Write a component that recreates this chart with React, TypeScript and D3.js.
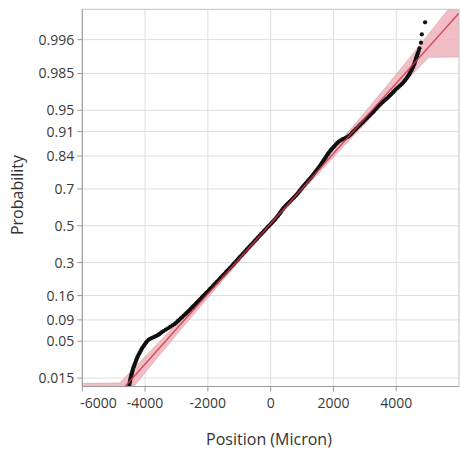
import React from 'react';
import * as d3 from 'd3';

// ---- data ----
const probTicks = [0.015, 0.05, 0.09, 0.16, 0.3, 0.5, 0.7, 0.84, 0.91, 0.95, 0.985, 0.996];
const xTicks = [-6000, -4000, -2000, 0, 2000, 4000];

// y of each point as a normal quantile (the probability axis is linear in it), x in micron
const normalQuantiles = [
  -2.29, -2.265, -2.24, -2.215, -2.19, -2.165, -2.14, -2.115, -2.09, -2.065, -2.04, -2.015, -1.99, -1.965,
  -1.94, -1.915, -1.89, -1.865, -1.84, -1.815, -1.79, -1.765, -1.74, -1.715, -1.69, -1.665, -1.645, -1.625,
  -1.61, -1.6, -1.59, -1.58, -1.57, -1.56, -1.548, -1.535, -1.52, -1.5, -1.48, -1.46, -1.44, -1.42, -1.4,
  -1.38, -1.36, -1.34, -1.32, -1.3, -1.28, -1.26, -1.24, -1.22, -1.2, -1.18, -1.16, -1.14, -1.12, -1.1,
  -1.08, -1.06, -1.04, -1.02, -1.0, -0.98, -0.96, -0.94, -0.92, -0.9, -0.88, -0.86, -0.84, -0.82, -0.8,
  -0.78, -0.76, -0.74, -0.72, -0.7, -0.68, -0.66, -0.64, -0.62, -0.6, -0.58, -0.56, -0.54, -0.52, -0.5,
  -0.48, -0.46, -0.44, -0.42, -0.4, -0.38, -0.36, -0.34, -0.32, -0.3, -0.28, -0.26, -0.24, -0.22, -0.2,
  -0.18, -0.16, -0.14, -0.12, -0.1, -0.08, -0.06, -0.04, -0.02, 0.0, 0.02, 0.04, 0.06, 0.08, 0.1, 0.12,
  0.14, 0.16, 0.18, 0.2, 0.22, 0.24, 0.26, 0.28, 0.3, 0.32, 0.34, 0.36, 0.38, 0.4, 0.42, 0.44, 0.46, 0.48,
  0.5, 0.52, 0.54, 0.56, 0.58, 0.6, 0.62, 0.64, 0.66, 0.68, 0.7, 0.72, 0.74, 0.76, 0.78, 0.8, 0.82, 0.84,
  0.86, 0.88, 0.9, 0.92, 0.94, 0.96, 0.98, 1.0, 1.02, 1.04, 1.06, 1.08, 1.1, 1.12, 1.14, 1.16, 1.18, 1.2,
  1.215, 1.23, 1.24, 1.25, 1.26, 1.27, 1.285, 1.3, 1.32, 1.34, 1.36, 1.38, 1.4, 1.42, 1.44, 1.46, 1.48,
  1.5, 1.52, 1.54, 1.56, 1.58, 1.6, 1.62, 1.64, 1.66, 1.68, 1.7, 1.72, 1.74, 1.76, 1.78, 1.8, 1.82, 1.84,
  1.86, 1.88, 1.9, 1.92, 1.94, 1.96, 1.98, 2.0, 2.02, 2.04, 2.06, 2.08, 2.1, 2.12, 2.14, 2.16, 2.18, 2.2,
  2.22, 2.24, 2.26, 2.28, 2.3, 2.32, 2.34, 2.36, 2.38, 2.4, 2.42, 2.44, 2.46, 2.49, 2.528, 2.608, 2.728,
  2.899,
];
const positions = [
  -4510, -4500, -4490, -4480, -4470, -4460, -4445, -4430, -4415, -4400, -4385, -4365, -4345, -4325,
  -4300, -4285, -4260, -4235, -4210, -4180, -4150, -4120, -4090, -4050, -4010, -3970, -3935, -3890,
  -3840, -3790, -3740, -3690, -3640, -3600, -3560, -3520, -3480, -3410, -3340, -3270, -3200, -3130, -3060,
  -3010, -2960, -2910, -2865, -2815, -2770, -2720, -2675, -2630, -2580, -2540, -2495, -2450, -2405, -2360,
  -2320, -2275, -2230, -2190, -2145, -2100, -2060, -2015, -1970, -1930, -1885, -1840, -1800, -1755, -1715,
  -1670, -1630, -1590, -1545, -1505, -1460, -1420, -1380, -1335, -1295, -1250, -1210, -1170, -1130, -1085,
  -1045, -1010, -970, -925, -885, -840, -800, -765, -725, -680, -640, -595, -555, -515, -470,
  -430, -390, -345, -305, -265, -220, -180, -135, -95, -50, -5, 35, 80, 120, 160, 195,
  230, 265, 295, 325, 355, 390, 425, 465, 510, 555, 600, 645, 690, 735, 780, 820, 860, 895,
  930, 965, 1000, 1035, 1075, 1110, 1150, 1190, 1230, 1270, 1305, 1340, 1375, 1410, 1445, 1480, 1515, 1550,
  1580, 1610, 1640, 1670, 1700, 1730, 1760, 1790, 1820, 1850, 1885, 1920, 1960, 2000, 2040, 2080, 2125, 2170,
  2225, 2280, 2330, 2380, 2425, 2470, 2510, 2550, 2590, 2630, 2675, 2720, 2765, 2810, 2855, 2900, 2945,
  2990, 3035, 3080, 3125, 3170, 3215, 3260, 3300, 3340, 3380, 3420, 3465, 3510, 3560, 3610, 3665, 3720, 3765,
  3810, 3855, 3900, 3940, 3980, 4030, 4080, 4130, 4180, 4220, 4260, 4295, 4330, 4360, 4390, 4415, 4440, 4465,
  4490, 4510, 4530, 4550, 4570, 4585, 4600, 4615, 4630, 4645, 4660, 4675, 4690, 4715, 4740, 4790, 4815,
  4920,
];

const fitMean = -60;
const fitSigma = 2000;
const bandLowCut = -2.243; // quantile where the band opens to the left
const bandHighCut = 2.406; // quantile where the band opens to the right

// inverse normal CDF (Acklam)
function qnorm(p: number): number {
  const a = [-3.969683028665376e1, 2.209460984245205e2, -2.759285104469687e2, 1.38357751867269e2, -3.066479806614716e1, 2.506628277459239];
  const b = [-5.447609879822406e1, 1.615858368580409e2, -1.556989798598866e2, 6.680131188771972e1, -1.328068155288572e1];
  const c = [-7.784894002430293e-3, -3.223964580411365e-1, -2.400758277161838, -2.549732539343734, 4.374664141464968, 2.938163982698783];
  const d = [7.784695709041462e-3, 3.224671290700398e-1, 2.445134137142996, 3.754408661907416];
  const pl = 0.02425;
  if (p < pl) {
    const q = Math.sqrt(-2 * Math.log(p));
    return (((((c[0] * q + c[1]) * q + c[2]) * q + c[3]) * q + c[4]) * q + c[5]) / ((((d[0] * q + d[1]) * q + d[2]) * q + d[3]) * q + 1);
  }
  if (p > 1 - pl) {
    const q = Math.sqrt(-2 * Math.log(1 - p));
    return -(((((c[0] * q + c[1]) * q + c[2]) * q + c[3]) * q + c[4]) * q + c[5]) / ((((d[0] * q + d[1]) * q + d[2]) * q + d[3]) * q + 1);
  }
  const q = p - 0.5;
  const r = q * q;
  return ((((((a[0] * r + a[1]) * r + a[2]) * r + a[3]) * r + a[4]) * r + a[5]) * q) / (((((b[0] * r + b[1]) * r + b[2]) * r + b[3]) * r + b[4]) * r + 1);
}

const W = 460;
const H = 451;
const L = 82.3, R = 459, T = 9.3, B = 386.5;
const FONT = "'Open Sans', 'Noto Sans', sans-serif";

export default function App() {
  const x = d3.scaleLinear().domain([-6000, 6000]).range([L, R]);
  const y = d3.scaleLinear().domain([-2.29, 3.084]).range([B, T]);

  const zGrid = d3.range(-2.29, 3.09, 0.01);
  const halfW = (z: number) => 70 + 40 * z * z;
  const leftEdge = zGrid.map((z) => [z < bandLowCut ? -7000 : fitMean + fitSigma * z - halfW(z), z] as [number, number]);
  const rightEdge = zGrid
    .slice()
    .reverse()
    .map((z) => [z > bandHighCut ? 7000 : fitMean + fitSigma * z + halfW(z), z] as [number, number]);
  const bandPath = d3.line<[number, number]>().x((d) => x(d[0])).y((d) => y(d[1]))([...leftEdge, ...rightEdge]) + 'Z';

  const fitLine = d3.line<number>().x((z) => x(fitMean + fitSigma * z)).y((z) => y(z))([-2.5, 3.2]);

  return (
    <svg width={W} height={H} style={{ position: 'absolute', left: 0, top: 0, background: '#fff' }} fontFamily={FONT}>
      <defs>
        <clipPath id="plot">
          <rect x={L} y={T} width={R - L} height={B - T} />
        </clipPath>
      </defs>
      <rect x={L} y={T} width={R - L} height={B - T} fill="#fff" />
      {/* grid */}
      {probTicks.map((p) => (
        <line key={'gy' + p} x1={L} x2={R} y1={y(qnorm(p))} y2={y(qnorm(p))} stroke="#dedede" strokeWidth={1} />
      ))}
      {xTicks.slice(1).map((t) => (
        <line key={'gx' + t} x1={x(t)} x2={x(t)} y1={T} y2={B} stroke="#dedede" strokeWidth={1} />
      ))}
      <g clipPath="url(#plot)">
        <path d={bandPath} fill="#efb3bc" fillOpacity={0.85} stroke="#d99aa5" strokeWidth={0.6} />
        {positions.map((v, i) => (
          <circle key={i} cx={x(v)} cy={y(normalQuantiles[i])} r={2.1} fill="#111" />
        ))}
        <path d={fitLine || ''} stroke="#cf3a4e" strokeWidth={1.5} strokeOpacity={0.85} fill="none" />
      </g>
      {/* frame */}
      <rect x={L} y={T} width={R - L} height={B - T} fill="none" stroke="#c4c4c4" strokeWidth={1} />
      <line x1={L} x2={L} y1={T} y2={B} stroke="#9a9a9a" />
      <line x1={L} x2={R} y1={B} y2={B} stroke="#9a9a9a" />
      {/* y ticks */}
      {probTicks.map((p) => (
        <g key={'ty' + p}>
          <line x1={L - 5} x2={L} y1={y(qnorm(p))} y2={y(qnorm(p))} stroke="#9a9a9a" />
          <text x={L - 8} y={y(qnorm(p)) + 5} textAnchor="end" fontSize={14} fill="#3a3a3a">
            {String(p)}
          </text>
        </g>
      ))}
      {/* x ticks */}
      {xTicks.map((t, i) => (
        <g key={'tx' + t}>
          <line x1={x(t)} x2={x(t)} y1={B} y2={B + 5} stroke="#9a9a9a" />
          <text x={i === 0 ? L - 2 : x(t)} y={408} textAnchor={i === 0 ? 'start' : 'middle'} fontSize={14} fill="#3a3a3a">
            {String(t)}
          </text>
        </g>
      ))}
      <text x={269} y={445} textAnchor="middle" fontSize={16} fill="#333">
        Position (Micron)
      </text>
      <text transform={`translate(23,195) rotate(-90)`} textAnchor="middle" fontSize={16} fill="#333">
        Probability
      </text>
    </svg>
  );
}
